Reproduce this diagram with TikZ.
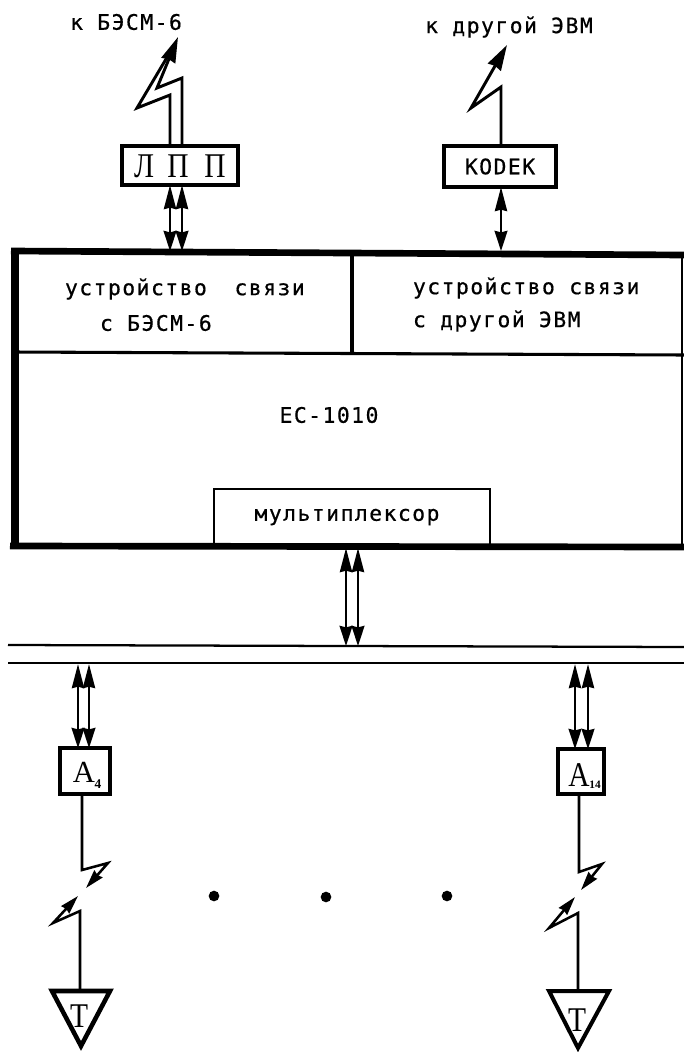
\documentclass[tikz,border=0pt]{standalone}
\usepackage{fontspec}
\usepackage{graphicx}
\usetikzlibrary{arrows.meta}
\newfontfamily\lab[LetterSpace=7,FakeBold=0.6]{DejaVu Sans Mono}
\newfontfamily\ser{Liberation Serif}
\newcommand{\tallglyph}[3]{\scalebox{#1}[1]{\fontsize{#2}{#2}\selectfont #3}}
\tikzset{
  x=0.75pt,y=-0.75pt,
  every node/.style={outer sep=0pt},
  txt/.style={font=\lab\fontsize{16pt}{18pt}\selectfont,inner sep=0pt},
  sertxt/.style={font=\ser,inner sep=0pt},
  sized/.style 2 args={minimum width=#1*0.75pt,minimum height=#2*0.75pt},
  dbl/.style={line width=2.1pt,{Stealth[length=18pt,width=9pt,inset=1pt]}-{Stealth[length=15pt,width=9.5pt,inset=1pt]}},
  bolt/.style={line width=2.2pt,line join=miter,-{Stealth[length=19pt,width=11pt,inset=1pt]}},
  boltsmall/.style={line width=1.9pt,line join=miter,-{Stealth[length=14pt,width=8pt,inset=1pt]}},
  rule/.style={line width=1.7pt},
  dotmark/.style={circle,fill,inner sep=0pt,minimum size=8pt}
}
\begin{document}
\begin{tikzpicture}
\useasboundingbox (0,0) rectangle (684,1052);
% top labels
\node[txt] (lA) at (126,22) {к БЭСМ-6};
\node[txt] (lB) at (509,27) {к другой ЭВМ};
% top boxes
\node[draw,line width=2.6pt,sized={116}{39}] (lpp) at (180,165.5) {};
\node[sertxt] (ll) at (144,166) {\tallglyph{.85}{26pt}{Л}};
\node[sertxt] (lp1) at (178,166) {\tallglyph{.85}{26pt}{П}};
\node[sertxt] (lp2) at (215,166) {\tallglyph{.85}{26pt}{П}};
\node[draw,line width=2.6pt,sized={112}{41},txt] (kodek) at (500,166.5) {KODEK};
% bolts
\coordinate (b1tip) at (178,37);
\coordinate (b2tip) at (507,45);
\draw[line width=2.2pt,line join=miter] (lpp.north -| 170,0) -- (170,95) -- (137,108) -- (169,54);
\draw[bolt] (lpp.north -| 182,0) -- (182,78) -- (157,88) -- (b1tip);
\draw[bolt] (kodek.north -| 501,0) -- (501,87) -- (471,108) -- (b2tip);
% main frame
\coordinate (mTL) at (15,251);
\coordinate (mTR) at (684,255);
\coordinate (mBL) at (15,546);
\coordinate (mBR) at (684,547);
\draw[line width=2pt] (682,255) -- (682,547);
\draw[line width=5pt] (11,251) -- (mTR);
\draw[line width=5.5pt] (mTL) -- (mBL);
\coordinate (divL) at (13,352);
\coordinate (divR) at (684,355);
\coordinate (divT) at (352,253);
\coordinate (divB) at (352,353);
\draw[line width=2.3pt] (divL) -- (divR);
\draw[line width=2.3pt] (divT) -- (divB);
\node[txt,anchor=west] (u1) at (65,289) {устройство\hspace{10pt} связи};
\node[txt,anchor=west] (u2) at (100,323) {с БЭСМ-6};
\node[txt,anchor=west] (u3) at (413,288) {устройство связи};
\node[txt,anchor=west] (u4) at (413,321) {с другой ЭВМ};
\node[txt] (ec) at (329,415) {ЕС-1010};
\node[draw,line width=2.2pt,sized={276}{56}] (mux) at (352,517) {};
\node[txt] (muxt) at (347,517) {мультиплексор};
\draw[line width=5pt] (10,546) -- (mBR);
% vertical double arrows
\draw[dbl] (lpp.south -| 170,0) -- (170,251);
\draw[dbl] (lpp.south -| 182,0) -- (182,251);
\draw[dbl] (kodek.south -| 501,0) -- (501,251);
\draw[dbl] (346,548) -- (346,646);
\draw[dbl] (358,548) -- (358,646);
% bus
\coordinate (busL1) at (8,645);
\coordinate (busR1) at (684,647);
\coordinate (busL2) at (8,663);
\coordinate (busR2) at (684,663);
\draw[rule] (busL1) -- (busR1);
\draw[rule,line width=2pt] (busL2) -- (busR2);
% adapters
\node[draw,line width=3.4pt,sized={50}{46}] (a1) at (85,771) {};
\node[draw,line width=3.4pt,sized={46}{45}] (a2) at (581,771.5) {};
\node[sertxt] (a1t) at (84,772) {\tallglyph{1}{23pt}{А}};
\node[sertxt] (a2t) at (579,775) {\tallglyph{.85}{26pt}{А}};
\node[font=\ser\bfseries\fontsize{10pt}{10pt}\selectfont,inner sep=0pt] (a1s) at (98,784) {4};
\node[font=\ser\bfseries\fontsize{8.5pt}{8.5pt}\selectfont,inner sep=0pt] (a2s) at (595,785) {14};
\draw[dbl] (78,664) -- (a1.north -| 78,0);
\draw[dbl] (89,664) -- (a1.north -| 89,0);
\draw[dbl] (575,664) -- (a2.north -| 575,0);
\draw[dbl] (588,664) -- (a2.north -| 588,0);
% lower bolts
\coordinate (t1top) at (80,991);
\coordinate (t2top) at (578,991);
\coordinate (e1) at (86,888);
\coordinate (e2) at (78,896);
\coordinate (e3) at (581,890);
\coordinate (e4) at (575,897);
\draw[boltsmall] (a1.south -| 82,0) -- (82,870) -- (108,863) -- (e1);
\draw[boltsmall] (t1top) -- (80,911) -- (53,923) -- (e2);
\draw[boltsmall] (a2.south -| 579,0) -- (579,872) -- (602,864) -- (e3);
\draw[boltsmall] (t2top) -- (578,913) -- (549,928) -- (e4);
% terminals
\draw[line width=3.4pt,line join=miter] (52,991) -- (110,991) -- (81,1046) -- cycle;
\draw[line width=3pt,line join=miter] (549,991) -- (609,991) -- (578,1048) -- cycle;
\node[sertxt] (t1) at (79,1016) {\tallglyph{.85}{26pt}{Т}};
\node[sertxt] (t2) at (577,1020) {\tallglyph{.85}{26pt}{Т}};
% dots
\node[dotmark] (d1) at (214,896) {};
\node[dotmark] (d2) at (326,897) {};
\node[dotmark] (d3) at (447,896) {};
\end{tikzpicture}
\end{document}
